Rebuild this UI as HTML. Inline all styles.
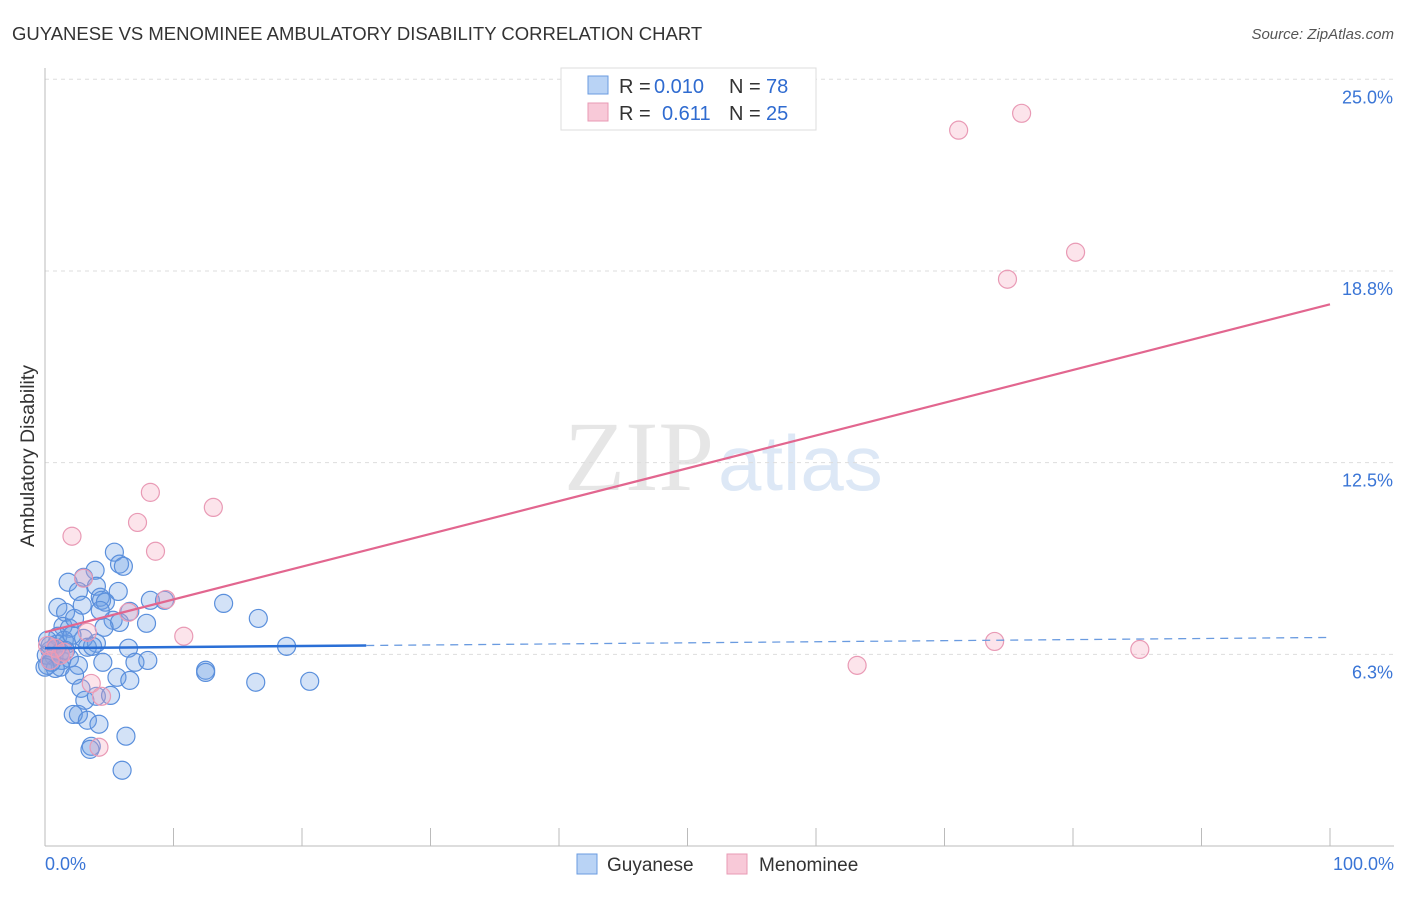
<!DOCTYPE html>
<html><head><meta charset="utf-8"><style>
body{margin:0;background:#fff;font-family:"Liberation Sans",sans-serif}
svg text{font-family:"Liberation Sans",sans-serif}
</style></head><body>
<svg id="c" width="1406" height="892">
<text x="12" y="40" font-size="18.5" fill="#333">GUYANESE VS MENOMINEE AMBULATORY DISABILITY CORRELATION CHART</text>
<text x="1394" y="39" font-size="15" fill="#555" font-style="italic" text-anchor="end">Source: ZipAtlas.com</text>
<text x="714" y="490" font-size="100" fill="#e6e6e6" text-anchor="end" font-family="Liberation Serif" style="font-family:'Liberation Serif',serif">ZIP</text>
<text x="718" y="490" font-size="78" fill="#dde8f6">atlas</text>
<text transform="translate(34,456) rotate(-90)" font-size="19.5" fill="#333" text-anchor="middle">Ambulatory Disability</text>
<g id="grid"></g><g id="marks"></g>
<g>
<rect x="561" y="68" width="255" height="62" fill="#fff" stroke="#ddd"/>
<rect x="588" y="76" width="20" height="18" fill="#b9d3f5" stroke="#6a9be0"/>
<rect x="588" y="103" width="20" height="18" fill="#f8c9d8" stroke="#e89ab4"/>
<text y="93" font-size="20" fill="#333"><tspan x="619">R =</tspan><tspan x="654" fill="#2f6bd0">0.010</tspan><tspan x="729">N =</tspan><tspan x="766" fill="#2f6bd0">78</tspan></text>
<text y="120" font-size="20" fill="#333"><tspan x="619">R =</tspan><tspan x="662" fill="#2f6bd0">0.611</tspan><tspan x="729">N =</tspan><tspan x="766" fill="#2f6bd0">25</tspan></text>
</g>
<g>
<rect x="577" y="854" width="20" height="20" fill="#b9d3f5" stroke="#6a9be0"/>
<text x="607" y="871" font-size="19" fill="#333">Guyanese</text>
<rect x="727" y="854" width="20" height="20" fill="#f8c9d8" stroke="#e89ab4"/>
<text x="759" y="871" font-size="19" fill="#333">Menominee</text>
</g>
</svg>
<script>
const yTicks=[6.25,12.5,18.75,25];
const yTickLabels=["6.3%","12.5%","18.8%","25.0%"];
const xTickLabels=["0.0%","100.0%"];
const blueX=[5.4,5.8,6.1,3.9,1.8,3.0,4.0,2.6,5.7,4.3,4.4,2.9,6.6,1.0,1.6,4.7,5.3,7.9,5.8,4.6,1.4,1.9,3.0,1.0,0.9,4.0,1.7,3.3,3.7,6.5,0.4,1.2,0.7,1.3,1.9,0.2,1.2,2.6,4.5,7.0,8.0,2.3,5.6,6.6,2.8,3.1,4.0,5.1,2.6,2.2,3.3,4.2,6.3,3.6,3.5,6.0,9.3,13.9,16.6,18.8,12.5,12.5,16.4,20.6,0.4,0.8,1.5,2.1,4.3,8.2,0.4,0.1,0.5,0.9,1.6,0.0,0.2,2.3];
const blueY=[9.58,9.19,9.12,8.99,8.60,8.76,8.47,8.30,8.30,8.11,8.01,7.85,7.65,7.78,7.62,7.95,7.36,7.26,7.29,7.13,7.16,7.10,6.77,6.84,6.58,6.61,6.58,6.48,6.51,6.45,6.38,6.32,6.18,6.05,6.12,5.89,5.83,5.89,5.99,5.99,6.05,5.57,5.50,5.40,5.14,4.75,4.88,4.91,4.29,4.29,4.10,3.97,3.58,3.25,3.15,2.47,8.01,7.91,7.42,6.51,5.73,5.66,5.34,5.37,6.05,5.79,6.71,6.87,7.68,8.01,6.54,6.22,5.99,6.45,6.38,5.83,6.71,7.42];
const pinkX=[76.0,71.1,80.2,74.9,8.2,13.1,7.2,2.1,8.6,3.0,9.4,6.5,3.3,10.8,73.9,63.2,85.2,3.6,4.4,4.2,0.8,1.2,0.4,1.5,0.2];
const pinkY=[23.89,23.34,19.36,18.48,11.53,11.04,10.55,10.10,9.61,8.73,8.04,7.62,6.97,6.84,6.67,5.89,6.41,5.30,4.88,3.22,6.45,6.22,6.05,6.32,6.54];
const blueTrend=[6.45,6.80];
const pinkTrend=[6.97,17.66];
const blueSolidEnd=25;
const X=v=>45+v*12.85, Y=v=>846-v*30.67;
const NS="http://www.w3.org/2000/svg";
function mk(tag,attrs,parent){const e=document.createElementNS(NS,tag);for(const k in attrs)e.setAttribute(k,attrs[k]);parent.appendChild(e);return e;}
const g=document.getElementById('grid'), m=document.getElementById('marks');
yTicks.forEach((t,i)=>{
 const l=mk('line',{x1:45,x2:1394,y1:Y(t),y2:Y(t),stroke:'#ddd','stroke-dasharray':'4,4'},g);
 
 
 const tx=mk('text',{x:1393,y:Y(t)+24,'font-size':18,fill:'#3a75d6','text-anchor':'end'},g);
 tx.textContent=yTickLabels[i];
 
 
});
const ax=mk('line',{x1:45,x2:45,y1:68,y2:846,stroke:'#bbb'},g);


const bx=mk('line',{x1:45,x2:1394,y1:846,y2:846,stroke:'#bbb'},g);


for(let i=0;i<=10;i++){const t=mk('line',{x1:X(i*10),x2:X(i*10),y1:828,y2:846,stroke:'#bbb'},g);
 
 }
[[0,'start',45],[100,'end',1394]].forEach((a,i)=>{const t=mk('text',{x:a[2],y:870,'font-size':18,fill:'#3a75d6','text-anchor':a[1]},g);t.textContent=xTickLabels[i];
 
 });
blueX.forEach((x,i)=>{const c=mk('circle',{cx:X(x),cy:Y(blueY[i]),r:9,fill:'rgba(110,160,230,0.3)',stroke:'#5a8fdc','stroke-width':1.2},m);
 
 });
pinkX.forEach((x,i)=>{const c=mk('circle',{cx:X(x),cy:Y(pinkY[i]),r:9,fill:'rgba(245,165,190,0.3)',stroke:'#e99ab5','stroke-width':1.2},m);
 
 });
const bt=v=>blueTrend[0]+(blueTrend[1]-blueTrend[0])*v/100;
const l1=mk('line',{x1:X(0),y1:Y(bt(0)),x2:X(blueSolidEnd),y2:Y(bt(blueSolidEnd)),stroke:'#2a6fd6','stroke-width':2.5},m);


const l2=mk('line',{x1:X(blueSolidEnd),y1:Y(bt(blueSolidEnd)),x2:X(100),y2:Y(bt(100)),stroke:'#6a9be0','stroke-width':1.3,'stroke-dasharray':'8,6'},m);


const l3=mk('line',{x1:X(0),y1:Y(pinkTrend[0]),x2:X(100),y2:Y(pinkTrend[1]),stroke:'#e2668f','stroke-width':2.2},m);


</script>
</body></html>
